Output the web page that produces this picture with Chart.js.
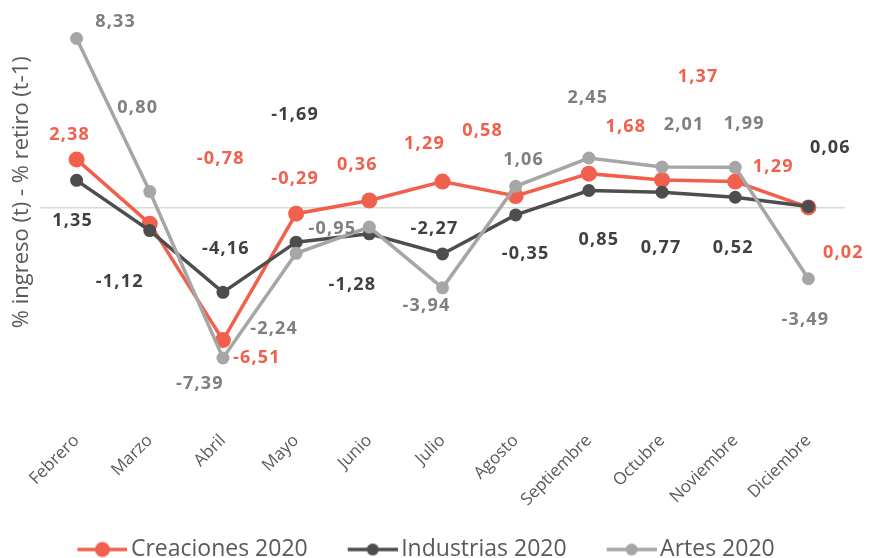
<!DOCTYPE html>
<html>
<head>
<meta charset="utf-8">
<script src="https://cdn.jsdelivr.net/npm/chart.js@4.4.1/dist/chart.umd.min.js"></script>
<style>
    html, body { margin: 0; padding: 0; background: #fff; }
    #wrap { width: 869px; height: 558px; }
</style>
</head>
<body>
<div id="wrap"><canvas id="chart"></canvas></div>
<script>
// Chart data
const months = ['Febrero', 'Marzo', 'Abril', 'Mayo', 'Junio', 'Julio', 'Agosto', 'Septiembre', 'Octubre', 'Noviembre', 'Diciembre'];
const creaciones = [2.38, -0.78, -6.51, -0.29, 0.36, 1.29, 0.58, 1.68, 1.37, 1.29, 0.02];
const industrias = [1.35, -1.12, -4.16, -1.69, -1.28, -2.27, -0.35, 0.85, 0.77, 0.52, 0.06];
const artes = [8.33, 0.80, -7.39, -2.24, -0.95, -3.94, 1.06, 2.45, 2.01, 1.99, -3.49];

// Label offsets (px, relative to each point)
const creacionesLabelOffsets = [[-7, -25], [71, -65], [34, 18], [-1, -35], [-12, -36], [-18, -38], [-33, -65], [37, -47], [36, -103], [38, -15], [35, 45]];
const industriasLabelOffsets = [[-4, 41], [-30, 51], [3, -43], [-1, -127], [-17, 51], [-8, -25], [10, 39], [10, 49], [-1, 56], [-2, 51], [22, -59]];
const artesLabelOffsets = [[39, -17], [-12, -84], [-23, 26], [-22, 76], [-37, 2], [-16, 18], [8, -26], [-1, -60], [22, -42], [9, -43], [-3, 41]];

const RED = '#F0604D';
const DARK = '#4D4D4D';
const GRAY = '#A6A6A6';

function formatValue(v) {
    return v.toFixed(2).replace('.', ',');
}

/**
 * Small canvas used as legend marker: blank lead-in, then a line with a circle
 */
function makeMarker(color, radius) {
    const c = document.createElement('canvas');
    c.width = 78;
    c.height = 20;
    const ctx = c.getContext('2d');
    ctx.strokeStyle = color;
    ctx.lineWidth = 3.5;
    ctx.beginPath();
    ctx.moveTo(28, 10);
    ctx.lineTo(78, 10);
    ctx.stroke();
    ctx.fillStyle = color;
    ctx.beginPath();
    ctx.arc(53, 10, radius, 0, Math.PI * 2);
    ctx.fill();
    return c;
}

const markers = [makeMarker(RED, 7.5), makeMarker(DARK, 6), makeMarker(GRAY, 6)];

// Draw value labels next to each point
const valueLabels = {
    id: 'valueLabels',
    afterDatasetsDraw(chart) {
        const ctx = chart.ctx;
        chart.data.datasets.forEach((ds, i) => {
            const meta = chart.getDatasetMeta(i);
            ctx.save();
            ctx.font = 'bold 18px "Open Sans"';
            ctx.letterSpacing = '1.2px';
            ctx.fillStyle = ds.labelColor;
            ctx.textAlign = 'center';
            ctx.textBaseline = 'middle';
            meta.data.forEach((pt, j) => {
                const off = ds.labelOffsets[j];
                ctx.fillText(formatValue(ds.data[j]), pt.x + off[0], pt.y + off[1]);
            });
            ctx.restore();
        });
    }
};

const ctx = document.getElementById('chart').getContext('2d');
new Chart(ctx, {
    type: 'line',
    data: {
        labels: months,
        datasets: [
            {
                label: 'Creaciones 2020',
                data: creaciones,
                borderColor: RED,
                backgroundColor: RED,
                borderWidth: 3.5,
                pointRadius: 8,
                pointHoverRadius: 8,
                pointBorderWidth: 0,
                labelColor: RED,
                labelOffsets: creacionesLabelOffsets,
                order: 3
            },
            {
                label: 'Industrias 2020',
                data: industrias,
                borderColor: DARK,
                backgroundColor: DARK,
                borderWidth: 3.5,
                pointRadius: 6.5,
                pointHoverRadius: 6.5,
                pointBorderWidth: 0,
                labelColor: '#404040',
                labelOffsets: industriasLabelOffsets,
                order: 2
            },
            {
                label: 'Artes 2020',
                data: artes,
                borderColor: GRAY,
                backgroundColor: GRAY,
                borderWidth: 3.5,
                pointRadius: 6.5,
                pointHoverRadius: 6.5,
                pointBorderWidth: 0,
                labelColor: '#7F7F7F',
                labelOffsets: artesLabelOffsets,
                order: 1
            }
        ]
    },
    options: {
        responsive: true,
        maintainAspectRatio: false,
        animation: false,
        layout: {
            padding: { top: 0, left: 5, right: 24, bottom: -13 }
        },
        plugins: {
            tooltip: { enabled: false },
            legend: {
                position: 'bottom',
                labels: {
                    usePointStyle: true,
                    pointStyleWidth: 62,
                    padding: 20,
                    color: '#595959',
                    font: { family: '"Open Sans"', size: 23 },
                    generateLabels(chart) {
                        const items = Chart.defaults.plugins.legend.labels.generateLabels(chart);
                        items.sort((a, b) => a.datasetIndex - b.datasetIndex);
                        items.forEach(it => { it.pointStyle = markers[it.datasetIndex]; });
                        // trailing blank on the last item balances the marker lead-in
                        items[items.length - 1].text += '   ';
                        return items;
                    }
                }
            }
        },
        scales: {
            x: {
                offset: true,
                grid: { display: false },
                border: { display: false },
                ticks: {
                    color: '#595959',
                    font: { family: '"Open Sans"', size: 17 },
                    maxRotation: 45,
                    minRotation: 45,
                    padding: -11
                },
                afterFit(scale) { scale.height = 84.4; }
            },
            y: {
                min: -11.11,
                max: 9.83,
                border: { display: false },
                grid: {
                    drawTicks: false,
                    lineWidth: 1.5,
                    color: c => (c.tick && c.tick.value === 0 ? '#D9D9D9' : 'rgba(0,0,0,0)')
                },
                ticks: { display: false, stepSize: 1 },
                title: {
                    display: true,
                    // leading spaces nudge the centred title up, like the original
                    text: '          % ingreso (t) - % retiro (t-1)',
                    color: '#595959',
                    font: { family: '"Open Sans"', size: 22 }
                },
                afterFit(scale) { scale.width = 35; }
            }
        }
    },
    plugins: [valueLabels]
});
</script>
</body>
</html>
